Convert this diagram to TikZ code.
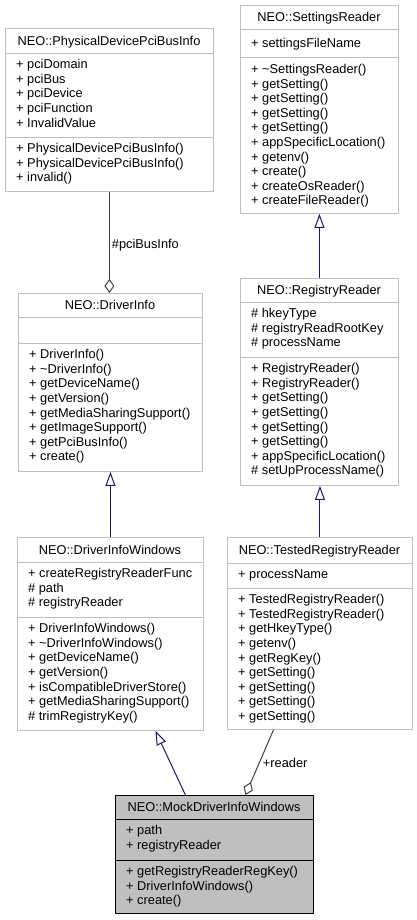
\documentclass[tikz,border=0pt]{standalone}
\usepackage{fontspec}
\setmainfont{Liberation Sans}
\usetikzlibrary{arrows.meta,calc}
\definecolor{boxgray}{HTML}{BFBFBF}
\definecolor{aggrgray}{HTML}{404040}
\definecolor{inhblue}{HTML}{191970}
\newcommand{\dxfont}{\fontsize{12.8}{14.6}\selectfont}

\begin{document}
\begin{tikzpicture}[x=1pt, y=-1pt, font=\dxfont,
    cls/.style={draw=boxgray, line width=0.9pt, anchor=north west, inner sep=0pt},
    sepline/.style={draw=boxgray, line width=0.9pt},
    ttl/.style={anchor=base, inner sep=0pt},
    mem/.style={anchor=north west, inner sep=0pt, align=left},
    inh/.style={draw=inhblue, line width=1pt, -{Triangle[open, length=14pt, width=10pt, fill=white]}},
    aggr/.style={draw=aggrgray, line width=1pt, -{Diamond[open, length=14pt, width=10pt, fill=white]}}]
  \useasboundingbox (0,0) rectangle (417,920);

  \node[cls, minimum width=208pt, minimum height=163pt] (pdi) at (5,28) {};
  \draw[sepline] (pdi.west |- 0,53) -- (pdi.east |- 0,53);
  \draw[sepline] (pdi.west |- 0,137) -- (pdi.east |- 0,137);
  \node[ttl] (pdi-t) at (109,45.1) {NEO::PhysicalDevicePciBusInfo};
  \node[mem] (pdi-a) at (16,58.3) {\strut+ pciDomain\\+ pciBus\\+ pciDevice\\+ pciFunction\\+ InvalidValue};
  \node[mem] (pdi-m) at (16,142.3) {\strut+ PhysicalDevicePciBusInfo()\\+ PhysicalDevicePciBusInfo()\\+ invalid()};

  \node[cls, minimum width=158pt, minimum height=208pt] (sr) at (240,5) {};
  \draw[sepline] (sr.west |- 0,29) -- (sr.east |- 0,29);
  \draw[sepline] (sr.west |- 0,57) -- (sr.east |- 0,57);
  \node[ttl] (sr-t) at (319,21.6) {NEO::SettingsReader};
  \node[mem] (sr-a) at (251,37) {\strut+ settingsFileName};
  \node[mem] (sr-m) at (251,63) {\strut+ \textasciitilde SettingsReader()\\+ getSetting()\\+ getSetting()\\+ getSetting()\\+ getSetting()\\+ appSpecificLocation()\\+ getenv()\\+ create()\\+ createOsReader()\\+ createFileReader()};

  \node[cls, minimum width=184pt, minimum height=178pt] (di) at (18,293) {};
  \draw[sepline] (di.west |- 0,317) -- (di.east |- 0,317);
  \draw[sepline] (di.west |- 0,343) -- (di.east |- 0,343);
  \node[ttl] (di-t) at (110,309.6) {NEO::DriverInfo};
  \node[mem] (di-m) at (29,348.3) {\strut+ DriverInfo()\\+ \textasciitilde DriverInfo()\\+ getDeviceName()\\+ getVersion()\\+ getMediaSharingSupport()\\+ getImageSupport()\\+ getPciBusInfo()\\+ create()};

  \node[cls, minimum width=158pt, minimum height=207pt] (rr) at (240,278) {};
  \draw[sepline] (rr.west |- 0,302) -- (rr.east |- 0,302);
  \draw[sepline] (rr.west |- 0,357) -- (rr.east |- 0,357);
  \node[ttl] (rr-t) at (319,294.6) {NEO::RegistryReader};
  \node[mem] (rr-a) at (251,307.3) {\strut\# hkeyType\\\# registryReadRootKey\\\# processName};
  \node[mem] (rr-m) at (251,362.3) {\strut+ RegistryReader()\\+ RegistryReader()\\+ getSetting()\\+ getSetting()\\+ getSetting()\\+ getSetting()\\+ appSpecificLocation()\\\# setUpProcessName()};

  \node[cls, minimum width=186pt, minimum height=193pt] (diw) at (17,537) {};
  \draw[sepline] (diw.west |- 0,562) -- (diw.east |- 0,562);
  \draw[sepline] (diw.west |- 0,617) -- (diw.east |- 0,617);
  \node[ttl] (diw-t) at (110,554.1) {NEO::DriverInfoWindows};
  \node[mem] (diw-a) at (28,567.3) {\strut+ createRegistryReaderFunc\\\# path\\\# registryReader};
  \node[mem] (diw-m) at (28,622.3) {\strut+ DriverInfoWindows()\\+ \textasciitilde DriverInfoWindows()\\+ getDeviceName()\\+ getVersion()\\+ isCompatibleDriverStore()\\+ getMediaSharingSupport()\\\# trimRegistryKey()};

  \node[cls, minimum width=185pt, minimum height=192pt] (trr) at (227,537) {};
  \draw[sepline] (trr.west |- 0,563) -- (trr.east |- 0,563);
  \draw[sepline] (trr.west |- 0,588) -- (trr.east |- 0,588);
  \node[ttl] (trr-t) at (319.5,554.6) {NEO::TestedRegistryReader};
  \node[mem] (trr-a) at (238,568.3) {\strut+ processName};
  \node[mem] (trr-m) at (238,593.3) {\strut+ TestedRegistryReader()\\+ TestedRegistryReader()\\+ getHkeyType()\\+ getenv()\\+ getRegKey()\\+ getSetting()\\+ getSetting()\\+ getSetting()\\+ getSetting()};

  \node[cls, draw=black, fill=boxgray, minimum width=198pt, minimum height=118pt] (mock) at (115,795) {};
  \draw[sepline, draw=black] (mock.west |- 0,819) -- (mock.east |- 0,819);
  \draw[sepline, draw=black] (mock.west |- 0,860) -- (mock.east |- 0,860);
  \node[ttl] (mock-t) at (214,811.6) {NEO::MockDriverInfoWindows};
  \node[mem] (mock-a) at (126,824.3) {\strut+ path\\+ registryReader};
  \node[mem] (mock-m) at (126,865.3) {\strut+ getRegistryReaderRegKey()\\+ DriverInfoWindows()\\+ create()};

  \draw[aggr] (pdi.south) -- (pdi.south |- di.north) node[pos=0.53, right, inner sep=2pt] {\#pciBusInfo};
  \draw[inh] (rr.north) -- (rr.north |- sr.south);
  \draw[inh] (trr.north) -- (trr.north |- rr.south);
  \draw[inh] (diw.north) -- (diw.north |- di.south);
  \draw[inh] ([xshift=-29pt]mock.north) -- ([xshift=45pt]diw.south);
  \draw[aggr] ([xshift=-46.5pt]trr.south) -- ([xshift=31pt]mock.north) node[pos=0.5, right, inner sep=3pt] {+reader};
\end{tikzpicture}
\end{document}
